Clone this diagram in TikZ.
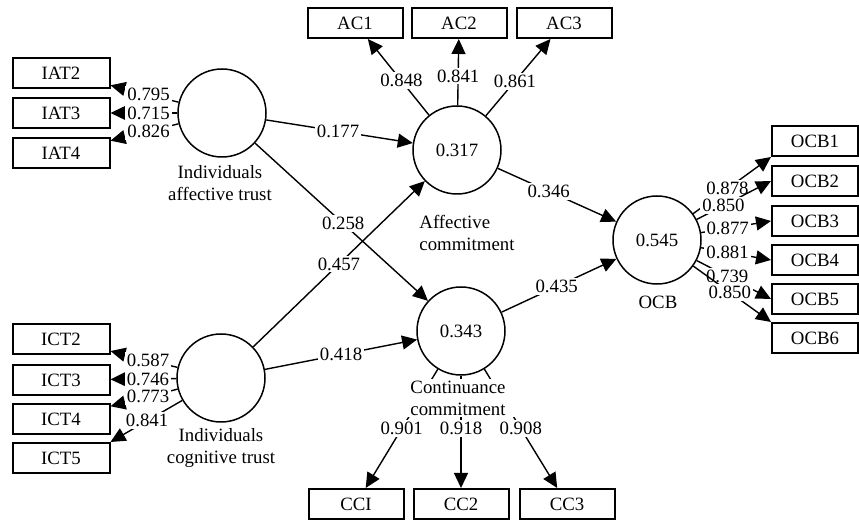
\documentclass[tikz,border=0pt]{standalone}
\usepackage{fontspec}
\setmainfont{Liberation Serif}
\usetikzlibrary{arrows.meta, positioning}

\begin{document}
\begin{tikzpicture}[
    x=0.5pt, y=-0.5pt,
    latent/.style={circle, draw, line width=0.75pt, minimum size=44pt,
                   inner sep=0pt, font=\fontsize{9.4}{11}\selectfont},
    item/.style={rectangle, draw, line width=1pt, minimum width=47.5pt,
                 minimum height=15pt, inner sep=0pt, font=\fontsize{9.4}{11}\selectfont},
    link/.style={-{Triangle[length=7.5pt, width=7pt]}, line width=0.7pt},
    coef/.style={fill=white, inner sep=1pt, font=\fontsize{9.4}{11}\selectfont},
    latname/.style={align=center, fill=white, inner sep=1pt,
                    font=\fontsize{9.4}{11}\selectfont}
  ]
    \useasboundingbox (0,0) rectangle (859,522);

    % latent variables
    \node[latent] (iat) at (222,113) {};
    \node[latent] (ict) at (221,378) {};
    \node[latent] (ac) at (457,150) {0.317};
    \node[latent] (cc) at (461,331) {0.343};
    \node[latent] (ocb) at (657,240) {0.545};

    % indicators
    \node[item, minimum width=48.5pt] (iat2) at (61,73) {IAT2};
    \node[item, minimum width=48.5pt] (iat3) at (61,113) {IAT3};
    \node[item, minimum width=48.5pt] (iat4) at (61,153) {IAT4};
    \node[item, minimum width=48.5pt] (ict2) at (61,339) {ICT2};
    \node[item, minimum width=48.5pt] (ict3) at (61,380) {ICT3};
    \node[item, minimum width=48.5pt] (ict4) at (61,419) {ICT4};
    \node[item, minimum width=48.5pt] (ict5) at (61,458) {ICT5};
    \node[item] (ac1) at (355,23) {AC1};
    \node[item] (ac2) at (459,23) {AC2};
    \node[item] (ac3) at (564,23) {AC3};
    \node[item] (cc1) at (356,504) {CCI};
    \node[item] (cc2) at (461,504) {CC2};
    \node[item] (cc3) at (567,504) {CC3};
    \node[item, minimum width=43pt] (ocb1) at (815,141) {OCB1};
    \node[item, minimum width=43pt] (ocb2) at (815,181) {OCB2};
    \node[item, minimum width=43pt] (ocb3) at (815,221) {OCB3};
    \node[item, minimum width=43pt] (ocb4) at (815,260) {OCB4};
    \node[item, minimum width=43pt] (ocb5) at (815,299) {OCB5};
    \node[item, minimum width=43pt] (ocb6) at (815,338) {OCB6};

    % loadings
    \draw[link] (iat) -- node[coef, pos=0.44] {0.795} (iat2);
    \draw[link] (iat) -- node[coef, pos=0.43] {0.715} (iat3);
    \draw[link] (iat) -- node[coef, pos=0.44] {0.826} (iat4);
    \draw[link] (ict) -- node[coef, pos=0.44] {0.587} (ict2);
    \draw[link] (ict) -- node[coef, pos=0.43] {0.746} (ict3);
    \draw[link] (ict) -- node[coef, pos=0.44] {0.773} (ict4);
    \draw[link] (ict) -- node[coef, pos=0.49] {0.841} (ict5.north east);
    \draw[link] (ac) -- node[coef, pos=0.45] {0.848} (ac1);
    \draw[link] (ac) -- node[coef, pos=0.44] {0.841} (ac2);
    \draw[link] (ac) -- node[coef, pos=0.45] {0.861} (ac3);
    \draw[link] (cc) -- node[coef, pos=0.5] {0.901} (cc1);
    \draw[link] (cc) -- node[coef, pos=0.47] {0.918} (cc2);
    \draw[link] (cc) -- node[coef, pos=0.5] {0.908} (cc3);
    \draw[link] (ocb) -- node[coef, pos=0.44] {0.878} (ocb1.south west);
    \draw[link] (ocb) -- node[coef, pos=0.36] {0.850} (ocb2.west);
    \draw[link] (ocb) -- node[coef, pos=0.38] {0.877} (ocb3.west);
    \draw[link] (ocb) -- node[coef, pos=0.38] {0.881} (ocb4.west);
    \draw[link] (ocb) -- node[coef, pos=0.41] {0.739} (ocb5.west);
    \draw[link] (ocb) -- node[coef, pos=0.47] {0.850} (ocb6.north west);

    % path coefficients
    \draw[link] (iat) -- node[coef, pos=0.49] {0.177} (ac);
    \draw[link] (iat) -- node[coef, pos=0.51] {0.258} (cc);
    \draw[link] (ict) -- node[coef, pos=0.5] {0.457} (ac);
    \draw[link] (ict) -- node[coef, pos=0.5] {0.418} (cc);
    \draw[link] (ac) -- node[coef, pos=0.43] {0.346} (ocb);
    \draw[link] (cc) -- node[coef, pos=0.48] {0.435} (ocb);

    % construct names
    \node[latname] (iatname) at (220,183) {Individuals\\affective trust};
    \node[latname] (ictname) at (221,448) {Individuals\\cognitive trust};
    \node[latname, align=left] (acname) at (467,233) {Affective\\commitment};
    \node[latname, inner xsep=6pt, inner ysep=1pt] (ccname) at (458,398) {Continuance\\commitment};
    \node[latname] (ocbname) at (658,302) {OCB};
  \end{tikzpicture}
\end{document}
